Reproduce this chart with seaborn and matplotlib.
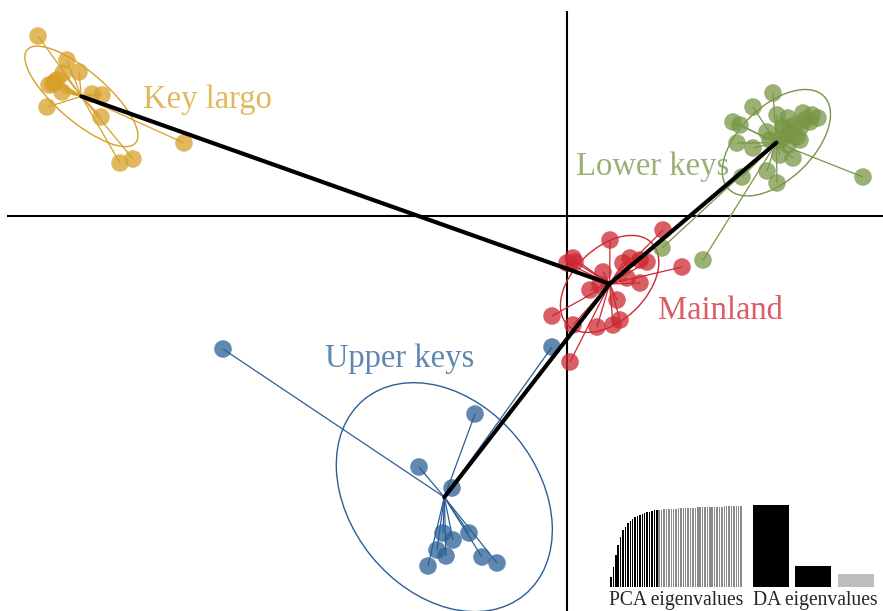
import numpy as np
import pandas as pd
import matplotlib
matplotlib.use("Agg")
import matplotlib.pyplot as plt
from matplotlib.patches import Ellipse
from matplotlib.collections import LineCollection
import seaborn as sns

# Discriminant analysis coordinates (LD1, LD2) per individual
key_largo_ld1 = [-10.58, -10.00, -9.76, -10.08, -10.24, -10.20, -10.28, -10.36,
                 -10.10, -10.40, -9.50, -9.30, -9.32, -8.94, -8.68, -7.66]
key_largo_ld2 = [3.60, 3.12, 2.88, 2.86, 2.68, 2.72, 2.64, 2.62,
                 2.48, 2.18, 2.44, 2.42, 1.98, 1.06, 1.14, 1.46]

lower_keys_ld1 = [4.12, 3.72, 3.32, 3.46, 4.20, 4.42, 4.72, 4.90, 5.02, 3.40, 3.72,
                  4.00, 4.32, 4.60, 4.52, 4.26, 4.00, 4.20, 3.50, 5.92, 1.90, 2.72,
                  4.36, 4.46, 4.56, 4.66, 4.76, 4.26, 4.42, 4.06, 4.66, 4.86]
lower_keys_ld2 = [2.46, 2.18, 1.88, 1.82, 2.02, 1.96, 2.06, 2.02, 1.96, 1.46, 1.36,
                  1.68, 1.78, 1.58, 1.16, 1.22, 0.90, 0.66, 0.78, 0.78, -0.64, -0.88,
                  1.72, 1.62, 1.82, 1.76, 1.92, 1.52, 1.42, 1.52, 1.52, 1.88]

mainland_ld1 = [1.92, 0.86, 0.12, 0.00, 0.16, 1.26, 1.46, 1.60, 1.12, 2.30, 0.72,
                0.66, 0.46, 1.46, 1.20, 1.00, -0.30, 0.12, 0.60, 0.92, 1.06, 0.06]
mainland_ld2 = [-0.28, -0.48, -0.84, -0.94, -0.92, -0.84, -0.88, -0.92, -0.94, -1.02, -1.12,
                -1.38, -1.48, -1.34, -1.24, -1.68, -2.00, -2.18, -2.22, -2.18, -2.08, -2.92]

upper_keys_ld1 = [-6.88, -0.30, -1.84, -2.96, -2.30, -1.96, -2.48, -2.28, -2.60,
                  -2.42, -2.78, -1.70, -1.40]
upper_keys_ld2 = [-2.66, -2.62, -3.96, -5.02, -5.44, -6.34, -6.34, -6.48, -6.68,
                  -6.80, -7.00, -6.82, -6.94]

groups = ["Key largo", "Lower keys", "Mainland", "Upper keys"]
colors = {"Key largo": "#D7A028", "Lower keys": "#789646",
          "Mainland": "#CD2832", "Upper keys": "#2A5F96"}
label_pos = {"Key largo": (-7.2, 2.32), "Lower keys": (1.72, 0.98),
             "Mainland": (3.06, -1.90), "Upper keys": (-3.34, -2.86)}

# Cumulative PCA variance (%) and DA eigenvalues
pca_cumvar = [12, 25, 39, 52, 62, 70, 74, 79, 81, 84, 86, 88, 89, 90, 91, 92, 93, 94, 94.5, 95,
              95.3, 95.6, 95.9, 96.1, 96.3, 96.5, 96.7, 96.9, 97.1, 97.3, 97.4, 97.6, 97.7,
              97.9, 98.0, 98.1, 98.3, 98.4, 98.5, 98.6, 98.7, 98.8, 98.9, 99.0, 99.1, 99.2,
              99.3, 99.4, 99.5, 99.6, 99.7, 99.8, 99.85, 99.9, 100]
n_pca_retained = 20
da_eig = [250, 64, 40]
n_da_shown = 2

df = pd.concat([
    pd.DataFrame({"LD1": key_largo_ld1, "LD2": key_largo_ld2, "pop": "Key largo"}),
    pd.DataFrame({"LD1": lower_keys_ld1, "LD2": lower_keys_ld2, "pop": "Lower keys"}),
    pd.DataFrame({"LD1": mainland_ld1, "LD2": mainland_ld2, "pop": "Mainland"}),
    pd.DataFrame({"LD1": upper_keys_ld1, "LD2": upper_keys_ld2, "pop": "Upper keys"}),
], ignore_index=True)

sns.set_style("white")
plt.rcParams["font.family"] = ["Liberation Serif", "DejaVu Serif"]

fig = plt.figure(figsize=(8.83, 6.11), dpi=100)
ax = fig.add_axes([7 / 883, 0, 876 / 883, 600 / 611])
ax.set_xlim(-11.2, 6.32)
ax.set_ylim(-7.9, 4.1)
ax.set_axis_off()

ax.axhline(0, color="black", lw=1.5, zorder=1)
ax.axvline(0, color="black", lw=1.5, zorder=1)

centroids = {}
for g in groups:
    sub = df[df["pop"] == g]
    pts = sub[["LD1", "LD2"]].to_numpy()
    c = pts.mean(axis=0)
    centroids[g] = c
    # star segments
    segs = [[tuple(p), tuple(c)] for p in pts]
    ax.add_collection(LineCollection(segs, colors=colors[g], linewidths=0.9, zorder=2))
    # 1.5 standard-deviation ellipse
    cov = np.cov(pts.T, ddof=0)
    vals, vecs = np.linalg.eigh(cov)
    order = vals.argsort()[::-1]
    vals, vecs = vals[order], vecs[:, order]
    angle = np.degrees(np.arctan2(vecs[1, 0], vecs[0, 0]))
    ax.add_patch(Ellipse(c, 2 * 1.5 * np.sqrt(vals[0]), 2 * 1.5 * np.sqrt(vals[1]),
                         angle=angle, fill=False, edgecolor=colors[g], lw=1.0, zorder=2))

sns.scatterplot(data=df, x="LD1", y="LD2", hue="pop", palette=colors, s=160,
                alpha=0.75, linewidth=0, legend=False, ax=ax, zorder=3)
ax.set_axis_off()

for g in groups:
    ax.text(*label_pos[g], g, color=colors[g], alpha=0.75, fontsize=23.5,
            ha="center", va="center", zorder=4)

# minimum spanning tree between group centroids
for a, b in [("Key largo", "Mainland"), ("Mainland", "Lower keys"), ("Mainland", "Upper keys")]:
    ax.plot([centroids[a][0], centroids[b][0]], [centroids[a][1], centroids[b][1]],
            color="black", lw=3, solid_capstyle="round", zorder=5)

# PCA eigenvalue inset
n_pca = len(pca_cumvar)
step = 2.41
ax_pca = fig.add_axes([(611 - step / 2) / 883, (611 - 587) / 611, n_pca * step / 883, 81 / 611])
pca_idx = [str(i) for i in range(n_pca)]
pca_pal = {k: ("black" if i < n_pca_retained else "#8a8a8a") for i, k in enumerate(pca_idx)}
sns.barplot(x=pca_idx, y=pca_cumvar, hue=pca_idx, palette=pca_pal, width=0.62,
            legend=False, ax=ax_pca, saturation=1, dodge=False, order=pca_idx, hue_order=pca_idx)
for p in ax_pca.patches:
    p.set_linewidth(0)
    p.set_antialiased(False)
ax_pca.set_xlim(-0.5, n_pca - 0.5)
ax_pca.set_ylim(0, max(pca_cumvar))
ax_pca.set_axis_off()
fig.text(676 / 883, 1 - 601 / 611, "PCA eigenvalues", ha="center", va="center", fontsize=14.1)

# DA eigenvalue inset
da_step = 42.3
ax_da = fig.add_axes([(771 - da_step / 2) / 883, (611 - 587) / 611, 3 * da_step / 883, 82 / 611])
da_idx = [str(i) for i in range(len(da_eig))]
da_pal = {k: ("black" if i < n_da_shown else "#bdbdbd") for i, k in enumerate(da_idx)}
sns.barplot(x=da_idx, y=da_eig, hue=da_idx, palette=da_pal, width=0.85,
            legend=False, ax=ax_da, saturation=1, dodge=False)
for p in ax_da.patches:
    p.set_linewidth(0)
ax_da.set_xlim(-0.5, 2.5)
ax_da.set_ylim(0, max(da_eig))
ax_da.set_axis_off()
fig.text(815 / 883, 1 - 601 / 611, "DA eigenvalues", ha="center", va="center", fontsize=14.1)

fig.savefig("out.png", dpi=100)
